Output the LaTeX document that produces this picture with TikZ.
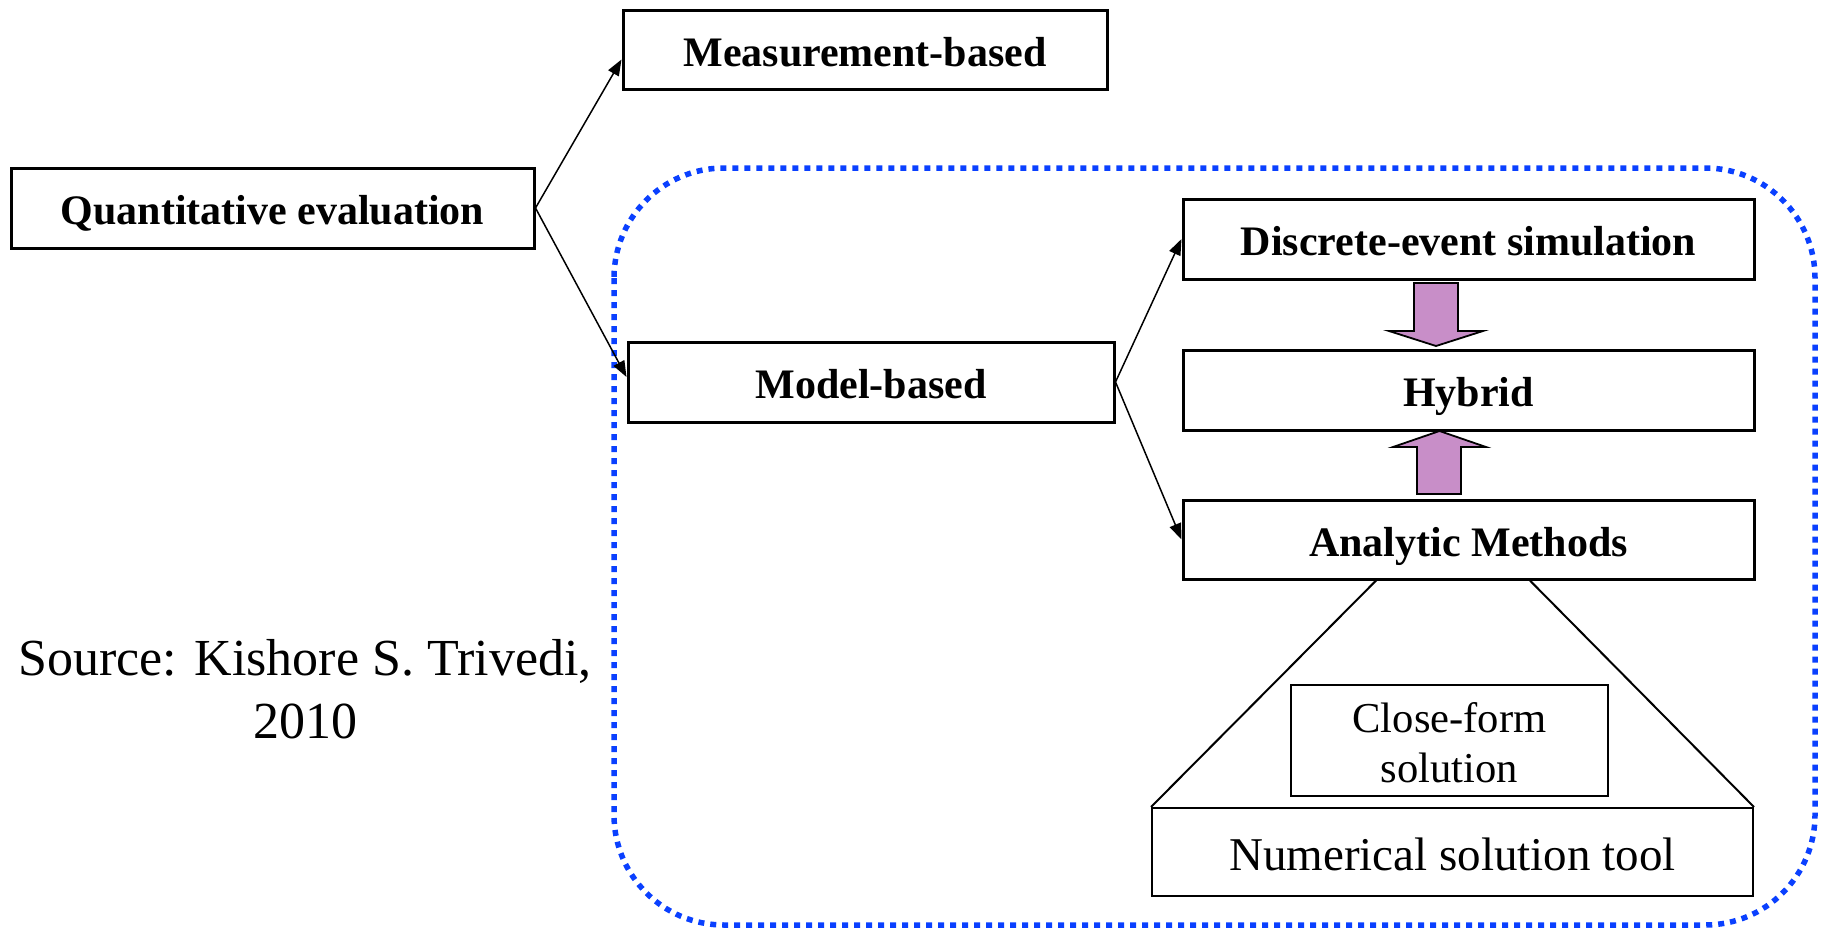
\documentclass[tikz,border=0pt]{standalone}
\usepackage{fontspec}
\setmainfont{Liberation Serif}
\usetikzlibrary{arrows.meta,calc}
\definecolor{dotblue}{RGB}{10,64,255}
\definecolor{pinkfill}{RGB}{200,142,200}
\begin{document}
\begin{tikzpicture}[x=1pt,y=-1pt,
  boldbox/.style={draw, fill=white, line width=3pt, inner sep=0pt,
    font=\fontsize{42}{50}\selectfont\bfseries, text height=40pt, text depth=7pt},
  plainbox/.style={draw, fill=white, line width=2pt, inner sep=0pt},
  conn/.style={line width=1.5pt, -{Triangle[length=16pt,width=12pt]}},
  blockarr/.style={draw, line width=1.8pt, fill=pinkfill, line join=miter},
  dotframe/.style={draw=dotblue, line width=5.5pt, dash pattern=on 6pt off 6pt, rounded corners=110pt},
]
\useasboundingbox (0,0) rectangle (1822,929);

% dotted frame
\draw[dotframe] (614,168) rectangle (1815,925);

% main boxes
\node[boldbox, minimum width=523pt, minimum height=80pt] (quant) at (272.5,208) {Quantitative evaluation};
\node[boldbox, minimum width=484pt, minimum height=79pt] (meas) at (865,49.5) {Measurement-based};
\node[boldbox, minimum width=486pt, minimum height=80pt] (model) at (871,382) {Model-based};
\node[boldbox, minimum width=571pt, minimum height=80pt] (des) at (1468.5,239) {Discrete-event simulation};
\node[boldbox, minimum width=571pt, minimum height=80pt] (hyb) at (1468.5,390) {Hybrid};
\node[boldbox, minimum width=571pt, minimum height=79pt] (ana) at (1468.5,539.5) {Analytic Methods};

% lower boxes
\node[plainbox, minimum width=601pt, minimum height=88pt,
  font=\fontsize{47}{56}\selectfont, text height=44pt, text depth=8pt] (num) at (1452.5,852) {Numerical solution tool};
\node[plainbox, minimum width=317pt, minimum height=111pt, align=center,
  font=\fontsize{42.6}{50}\selectfont, text height=93pt, text depth=10pt] (close) at (1449.5,740.5) {Close-form\\solution};

% source text
\node[font=\fontsize{52}{63}\selectfont, align=center, anchor=base, inner sep=0pt] (src) at (305,738) {Source: Kishore S. Trivedi,\\2010};

% connectors
\draw[conn] (quant.east) -- ([yshift=-10pt]meas.west);
\draw[conn] (quant.east) -- ([yshift=5pt]model.west);
\draw[conn] (model.east) -- (des.west);
\draw[conn] (model.east) -- (ana.west);

% trapezoid lines
\draw[line width=2pt] ($(ana.south west)!0.339!(ana.south east)$) -- (num.north west);
\draw[line width=2pt] ($(ana.south west)!0.607!(ana.south east)$) -- (num.north east);

% block arrows
\draw[blockarr] (1414,283) -- (1458,283) -- (1458,331) -- (1483,331) -- (1436,346) -- (1389,331) -- (1414,331) -- cycle;
\draw[blockarr] (1417,494) -- (1461,494) -- (1461,447) -- (1486,447) -- (1439.5,431) -- (1393,447) -- (1417,447) -- cycle;
\end{tikzpicture}
\end{document}
